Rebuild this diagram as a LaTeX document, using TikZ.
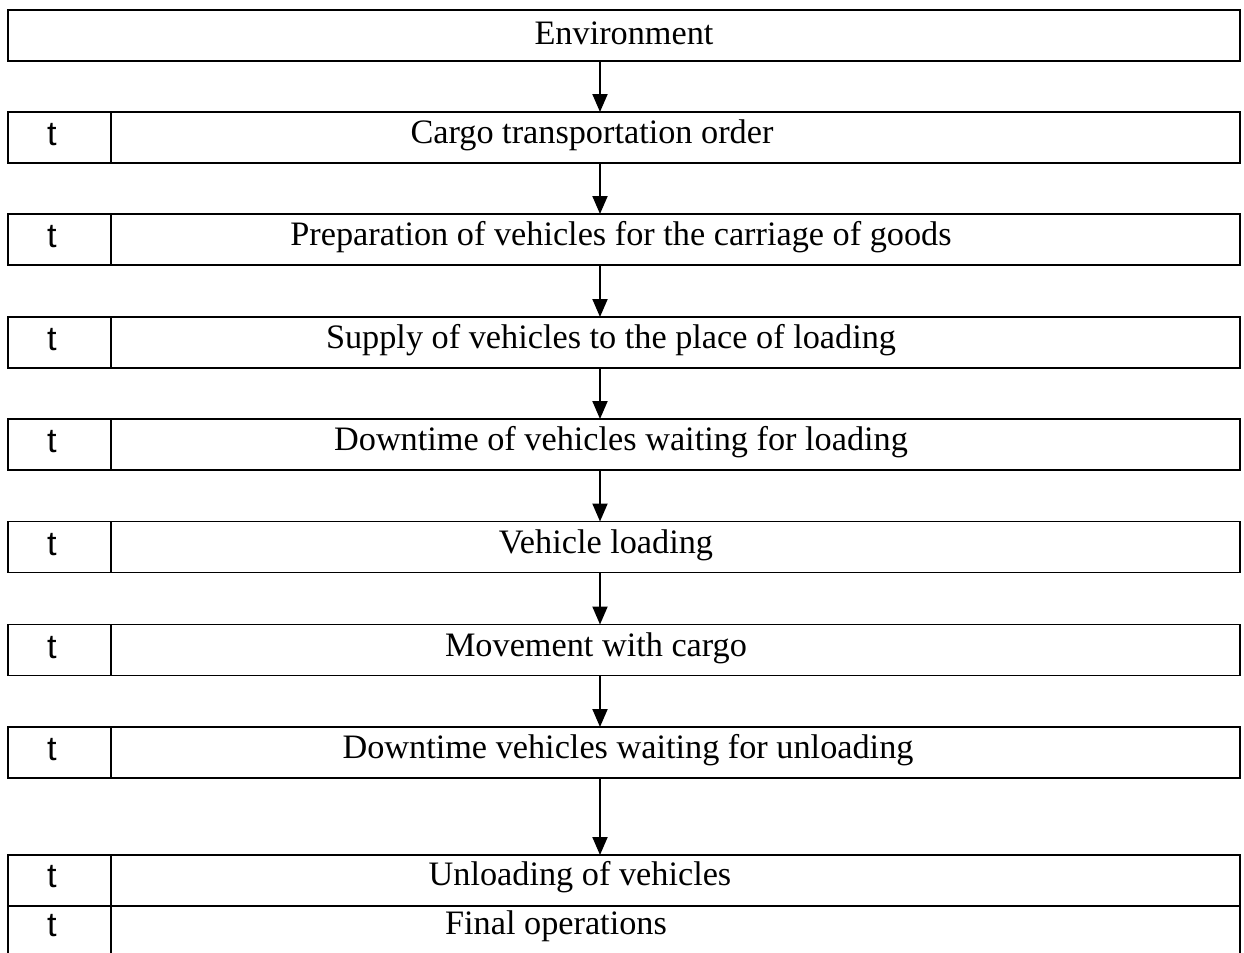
\documentclass[tikz,border=0pt]{standalone}
\usepackage{fontspec}
\setmainfont{Liberation Serif}
\newfontfamily\tfont{Liberation Sans}
\usetikzlibrary{arrows.meta, positioning}

\begin{document}
\begin{tikzpicture}[x=0.02cm, y=-0.02cm,
  box/.style={rectangle, draw=black, line width=1.1pt, inner sep=0pt, outer sep=0pt, minimum width=22.58cm, minimum height=1.02cm},
  tcell/.style={rectangle, draw=black, line width=1.1pt, inner sep=0pt, outer sep=0pt, minimum width=2.06cm, minimum height=1.02cm},
  lbl/.style={font=\fontsize{19.5}{22}\selectfont},
  tlbl/.style={font=\tfont\fontsize{19.5}{22}\selectfont},
  arr/.style={line width=1.1pt, -{Triangle[length=0.36cm, width=0.3cm]}}]
\useasboundingbox (0,0) rectangle (1244,953);

% Top box
\node[box, minimum width=24.64cm] (env) at (624,35.5) {};
\node[lbl] at (624,33) {Environment};

% Boxes of the chain, time cell on the left
\node[tcell] (t1) at (59.5,137.5) {};
\node[box] (r1) at (675.5,137.5) {};
\node[tcell] (t2) at (59.5,239.5) {};
\node[box] (r2) at (675.5,239.5) {};
\node[tcell] (t3) at (59.5,342.5) {};
\node[box] (r3) at (675.5,342.5) {};
\node[tcell] (t4) at (59.5,444.5) {};
\node[box] (r4) at (675.5,444.5) {};
\node[tcell] (t5) at (59.5,547) {};
\node[box] (r5) at (675.5,547) {};
\node[tcell] (t6) at (59.5,650) {};
\node[box] (r6) at (675.5,650) {};
\node[tcell] (t7) at (59.5,752.5) {};
\node[box] (r7) at (675.5,752.5) {};
\node[tcell] (t8) at (59.5,880.5) {};
\node[box] (r8) at (675.5,880.5) {};
\node[tcell] (t9) at (59.5,931.5) {};
\node[box] (r9) at (675.5,931.5) {};

% Text
\node[lbl] at (592,135) {Cargo transportation order};
\node[lbl] at (621,237) {Preparation of vehicles for the carriage of goods};
\node[lbl] at (611,340) {Supply of vehicles to the place of loading};
\node[lbl] at (621,442) {Downtime of vehicles waiting for loading};
\node[lbl] at (606,545) {Vehicle loading};
\node[lbl] at (596,648) {Movement with cargo};
\node[lbl] at (628,750) {Downtime vehicles waiting for unloading};
\node[lbl] at (580,877) {Unloading of vehicles};
\node[lbl] at (556,926) {Final operations};

\foreach \i/\y in {1/135,2/237,3/340,4/442,5/545,6/648,7/750,8/877,9/926}
  \node[tlbl] at (52,\y) {t};

% Arrows
\coordinate (ax) at (600,0);
\draw[arr] (env.south -| ax) -- (r1.north -| ax);
\draw[arr] (r1.south -| ax) -- (r2.north -| ax);
\draw[arr] (r2.south -| ax) -- (r3.north -| ax);
\draw[arr] (r3.south -| ax) -- (r4.north -| ax);
\draw[arr] (r4.south -| ax) -- (r5.north -| ax);
\draw[arr] (r5.south -| ax) -- (r6.north -| ax);
\draw[arr] (r6.south -| ax) -- (r7.north -| ax);
\draw[arr] (r7.south -| ax) -- (r8.north -| ax);
\end{tikzpicture}
\end{document}
